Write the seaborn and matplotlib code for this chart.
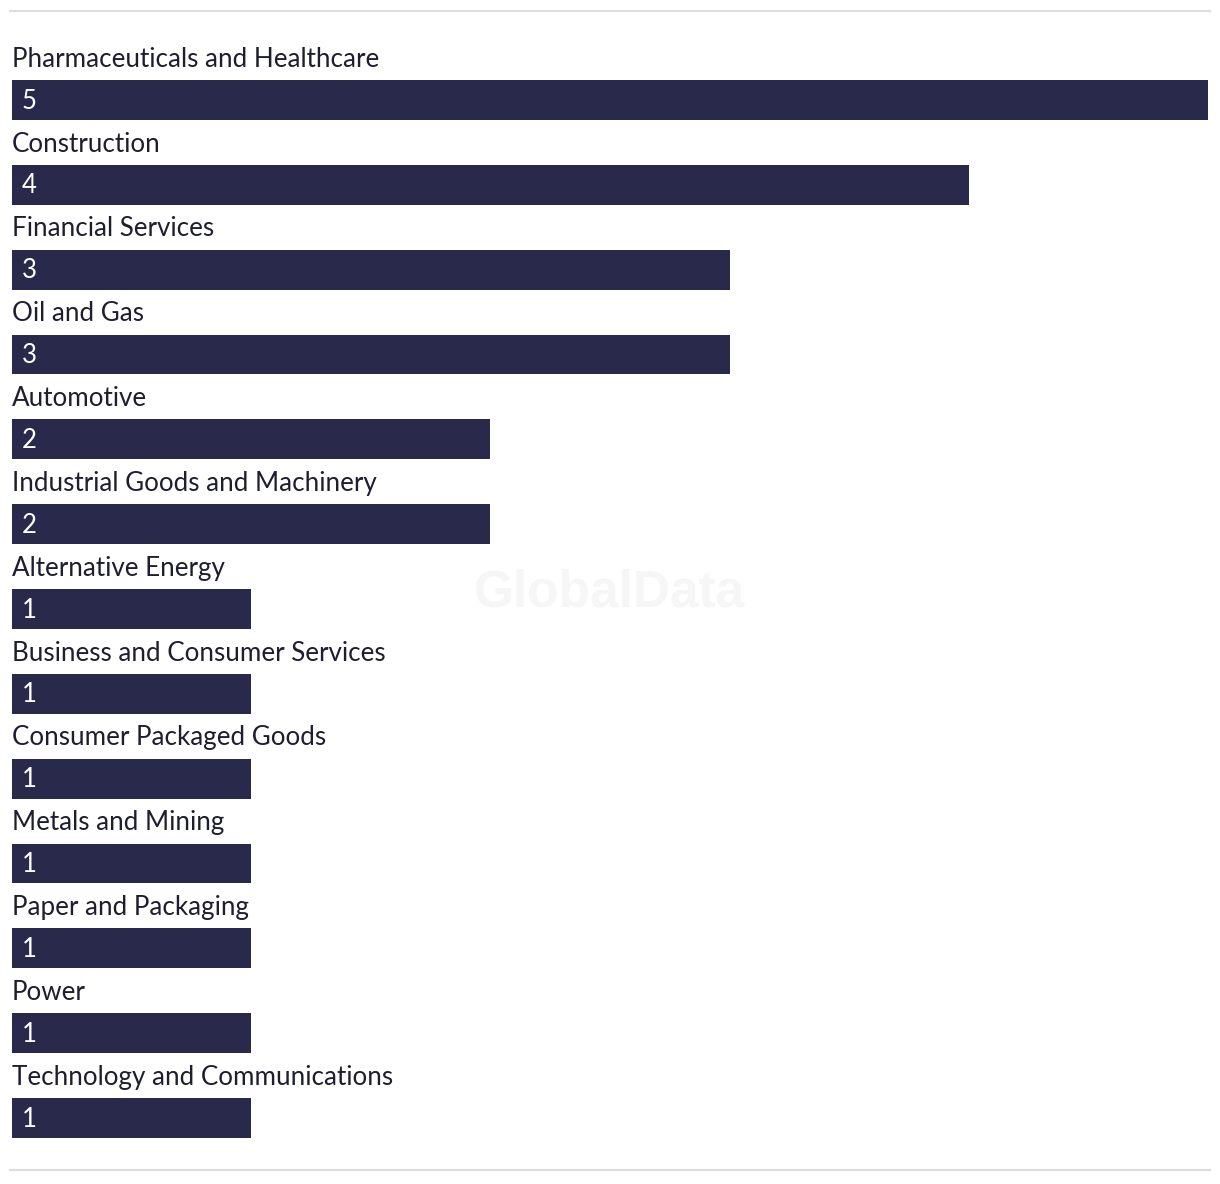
import matplotlib
matplotlib.use("Agg")
import matplotlib.pyplot as plt
import seaborn as sns
import pandas as pd
from matplotlib.lines import Line2D

categories = [
    "Pharmaceuticals and Healthcare",
    "Construction",
    "Financial Services",
    "Oil and Gas",
    "Automotive",
    "Industrial Goods and Machinery",
    "Alternative Energy",
    "Business and Consumer Services",
    "Consumer Packaged Goods",
    "Metals and Mining",
    "Paper and Packaging",
    "Power",
    "Technology and Communications",
]
values = [5, 4, 3, 3, 2, 2, 1, 1, 1, 1, 1, 1, 1]

df = pd.DataFrame({"category": categories, "value": values})

W, H = 1220, 1184
fig = plt.figure(figsize=(W / 100, H / 100), dpi=100)
ax = fig.add_axes([12 / W, 0, (1208 - 12) / W, 1])

sns.barplot(data=df, x="value", y="category", orient="h", color="#29294b",
            saturation=1, width=0.4715, ax=ax)

step = (1118 - 100) / 12.0
ax.set_xlim(0, 5)
ax.set_ylim(12 + (H - 1118) / step, -100 / step)
ax.axis("off")

font = "Lato"
for i, (c, v) in enumerate(zip(categories, values)):
    ax.text(0.0, i - 0.48, c, ha="left", va="center", fontsize=18.7,
            color="#1e1e30", family=font)
    ax.text(0.04, i + 0.012, str(v), ha="left", va="center", fontsize=18.5,
            color="white", family=font)

fig.text(610 / W, 1 - 593 / H, "GlobalData", ha="center", va="center",
         fontsize=37, fontweight="bold", color="#f6f6f6",
         family="Liberation Sans", zorder=0)

for yp in (11, 1170):
    fig.add_artist(Line2D([10 / W, 1210 / W], [1 - yp / H, 1 - yp / H],
                          color="#dcdcdc", lw=1.5))

fig.savefig("out.png", dpi=100)
